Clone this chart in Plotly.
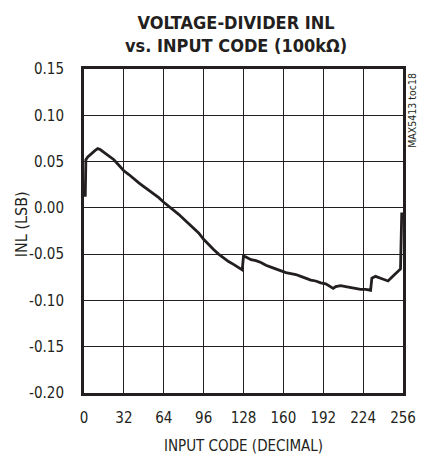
import plotly.graph_objects as go

# Data
codes = [1, 1.5, 3, 6, 9, 11, 13, 16, 20, 24, 28, 32, 36, 40, 44, 48, 52, 56, 60, 64,
         68, 72, 76, 80, 84, 88, 92, 96, 100, 104, 108, 112, 116, 120, 124, 127,
         128, 130, 134, 138, 142, 146, 150, 154, 158, 162, 166, 170, 174, 178, 182,
         186, 190, 194, 198, 200, 202, 206, 210, 214, 218, 222, 226, 230,
         231, 234, 238, 242, 244, 247, 251, 254, 255]
inl = [0.012, 0.052, 0.055, 0.059, 0.062, 0.064, 0.063, 0.060, 0.056, 0.052, 0.046,
       0.040, 0.036, 0.031, 0.027, 0.023, 0.019, 0.015, 0.011, 0.006,
       0.002, -0.003, -0.007, -0.012, -0.017, -0.021, -0.027, -0.034, -0.040,
       -0.045, -0.050, -0.054, -0.058, -0.061, -0.064, -0.067,
       -0.052, -0.053, -0.056, -0.057, -0.059, -0.062, -0.064, -0.066, -0.068,
       -0.070, -0.071, -0.072, -0.074, -0.076, -0.078,
       -0.079, -0.081, -0.082, -0.085, -0.087, -0.085, -0.084, -0.085, -0.086,
       -0.087, -0.088, -0.088, -0.089,
       -0.076, -0.074, -0.076, -0.078, -0.079, -0.075, -0.070, -0.066, -0.005]

x_ticks = [0, 32, 64, 96, 128, 160, 192, 224, 256]
y_ticks = [-0.20, -0.15, -0.10, -0.05, 0.00, 0.05, 0.10, 0.15]
y_tick_labels = ["-0.20", "-0.15", "-0.10", "-0.05", "0.00", "0.05", "0.10", "0.15"]

FONT = "DejaVu Sans Condensed, Liberation Sans Narrow, sans-serif"
INK = "#231f20"

fig = go.Figure()
fig.add_trace(go.Scatter(x=codes, y=inl, mode="lines",
                         line=dict(color=INK, width=2.8),
                         showlegend=False, hoverinfo="skip"))

fig.update_layout(
    width=428, height=455,
    margin=dict(l=84, r=19, t=69, b=62),
    paper_bgcolor="white", plot_bgcolor="white",
    font=dict(family=FONT, size=15, color=INK),
    showlegend=False,
)

fig.update_xaxes(range=[0, 256], tickvals=x_ticks, ticktext=[str(v) for v in x_ticks],
                 showgrid=True, gridcolor=INK, gridwidth=1,
                 showline=True, linecolor=INK, linewidth=3, mirror=True,
                 ticks="", ticklabelstandoff=9, zeroline=False,
                 tickfont=dict(family=FONT, size=15))
fig.update_yaxes(range=[-0.20, 0.15], tickvals=y_ticks, ticktext=y_tick_labels,
                 showgrid=True, gridcolor=INK, gridwidth=1,
                 showline=True, linecolor=INK, linewidth=3, mirror=True,
                 ticks="", ticklabelstandoff=14, zeroline=False,
                 tickfont=dict(family=FONT, size=15))

fig.add_annotation(text="<b>VOLTAGE-DIVIDER INL<br>vs. INPUT CODE (100kΩ)</b>",
                   x=(239 - 84) / 325, y=(393 - 34) / 324, xref="paper", yref="paper",
                   xanchor="center", yanchor="middle", showarrow=False,
                   font=dict(family=FONT, size=18, color=INK))
fig.add_annotation(text="INPUT CODE (DECIMAL)",
                   x=0.5, y=(393 - 446) / 324, xref="paper", yref="paper",
                   xanchor="center", yanchor="middle", showarrow=False,
                   font=dict(family=FONT, size=15, color=INK))
fig.add_annotation(text="INL (LSB)", textangle=-90,
                   x=(20 - 84) / 325, y=(393 - 224) / 324, xref="paper", yref="paper",
                   xanchor="center", yanchor="middle", showarrow=False,
                   font=dict(family=FONT, size=16, color=INK))
fig.add_annotation(text="MAX5413 toc18", textangle=-90,
                   x=(418 - 84) / 325, y=(393 - 110) / 324, xref="paper", yref="paper",
                   xanchor="center", yanchor="middle", showarrow=False,
                   font=dict(family=FONT, size=10.5, color=INK))

fig.write_html("out.html",
               config={"displayModeBar": False},
               post_script="document.body.style.margin='0';document.body.style.padding='0';")
